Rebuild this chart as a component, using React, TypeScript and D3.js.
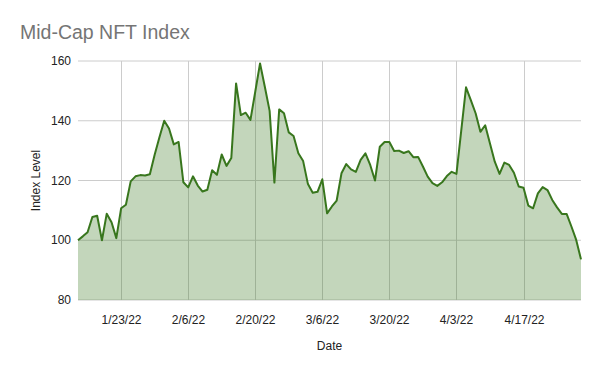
import React from "react";
import * as d3 from "d3";

const startDate = "1/14/22";
const indexValues = [
  100, 101.3, 102.7, 107.8, 108.2, 100, 108.9, 106, 100.7, 110.7,
  111.9, 119.7, 121.4, 121.8, 121.7, 122.1, 128.6, 134.5, 140, 137.4,
  132.1, 132.9, 119.4, 117.7, 121.4, 118.3, 116.3, 116.9, 123.4, 121.9,
  128.7, 124.9, 127.5, 152.5, 141.9, 142.7, 140.3, 149.7, 159.2, 151.4,
  143.3, 119.3, 143.8, 142.5, 136.1, 134.9, 129.1, 126.5, 118.8, 115.9,
  116.2, 120.4, 109, 111.3, 113.3, 122.4, 125.5, 123.7, 122.9, 126.9,
  129.1, 125.2, 120, 131.3, 132.9, 132.9, 129.9, 130, 129.2, 129.8,
  127.8, 127.9, 124.7, 121.3, 119.1, 118.2, 119.4, 121.5, 122.9, 122.2,
  136.7, 151.2, 146.9, 142.5, 136.3, 138.5, 132.4, 126.3, 122.2, 126,
  125.2, 122.6, 118, 117.6, 111.6, 110.7, 115.7, 117.8, 116.8, 113.5,
  111, 108.8, 108.8, 104.6, 100.1, 93.6,
];
const xTickLabels = ["1/23/22", "2/6/22", "2/20/22", "3/6/22", "3/20/22", "4/3/22", "4/17/22"];
const yTicks = [80, 100, 120, 140, 160];

const parse = d3.timeParse("%m/%d/%y");

export default function App() {
  const W = 600, H = 371;
  const left = 78, right = 581, top = 61, bottom = 300;
  const start = parse(startDate) as Date;
  const data = indexValues.map((v, i) => ({ date: d3.timeDay.offset(start, i), v }));
  const x = d3.scaleTime()
    .domain([data[0].date, data[data.length - 1].date])
    .range([left, right]);
  const y = d3.scaleLinear().domain([80, 160]).range([bottom, top]);
  const line = d3.line<{ date: Date; v: number }>().x(d => x(d.date)).y(d => y(d.v));
  const area = d3.area<{ date: Date; v: number }>().x(d => x(d.date)).y0(y(80)).y1(d => y(d.v));
  const font = "Arial, 'Liberation Sans', sans-serif";

  return (
    <svg width={W} height={H} style={{ position: "absolute", left: 0, top: 0, background: "#fff" }}>
      <rect width={W} height={H} fill="#fff" />
      <text x={20} y={39} fontFamily={font} fontSize={19.5} fill="#757575">Mid-Cap NFT Index</text>
      {yTicks.map(t => (
        <g key={t}>
          <line x1={left} x2={right} y1={y(t)} y2={y(t)} stroke="#cccccc" strokeWidth={1} />
          <text x={71} y={y(t)} dy="0.35em" textAnchor="end" fontFamily={font} fontSize={12} fill="#222">{t}</text>
        </g>
      ))}
      {xTickLabels.map(l => {
        const xx = Math.round(x(parse(l) as Date)) + 0.5;
        return (
          <g key={l}>
            <line x1={xx} x2={xx} y1={top} y2={bottom} stroke="#cccccc" strokeWidth={1} />
            <text x={xx} y={324} textAnchor="middle" fontFamily={font} fontSize={12} fill="#222">{l}</text>
          </g>
        );
      })}
      <path d={area(data) as string} fill="#38761d" fillOpacity={0.3} />
      <path d={line(data) as string} fill="none" stroke="#38761d" strokeWidth={2} strokeLinejoin="round" />
      <text x={(left + right) / 2} y={350} textAnchor="middle" fontFamily={font} fontSize={12} fill="#222">Date</text>
      <text transform={`translate(40,${(top + bottom) / 2}) rotate(-90)`} textAnchor="middle" fontFamily={font} fontSize={12} fill="#222">Index Level</text>
    </svg>
  );
}
